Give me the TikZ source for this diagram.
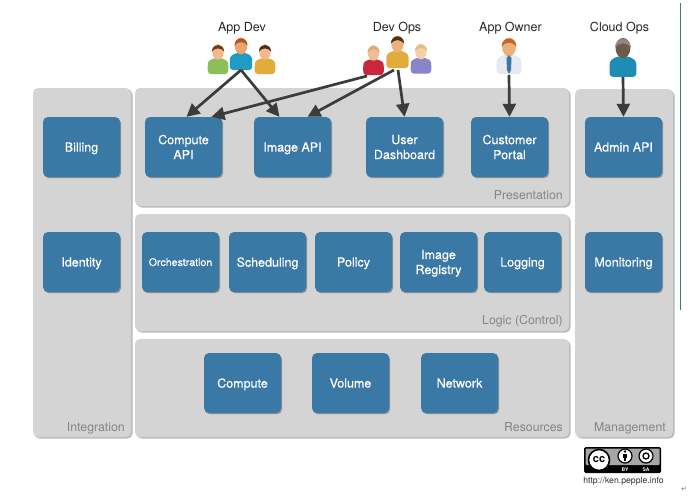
\documentclass[tikz,border=0pt]{standalone}
\usepackage{fontspec}
\setmainfont{TeX Gyre Heros}
\newfontfamily\symfont{DejaVu Sans}
\newfontfamily\boxfont[FakeBold=0.35]{TeX Gyre Heros}
\usetikzlibrary{shadows,calc,arrows.meta}
\definecolor{panelgrey}{HTML}{D4D4D4}
\definecolor{boxblue}{HTML}{3A78A6}
\definecolor{labelgrey}{HTML}{858585}
\definecolor{arrowdark}{HTML}{3C3C3C}
\tikzset{
  panel/.style={fill=panelgrey,rounded corners=5pt,drop shadow={shadow xshift=1.5pt,shadow yshift=-1.5pt,opacity=.45,fill=black!60}},
  bluebox/.style={fill=boxblue,rounded corners=5pt,minimum width=77pt,minimum height=60pt,inner sep=0pt,align=center,text=white,text depth=0pt,font=\boxfont\fontsize{12.5}{15}\selectfont,drop shadow={shadow xshift=1pt,shadow yshift=-1.2pt,opacity=.5,fill=black!70}},
  twoline/.style={text depth=-2pt},
  panellabel/.style={text=labelgrey,font=\fontsize{12.3}{15}\selectfont,anchor=base east,inner sep=0pt},
  role/.style={text=black!85,font=\fontsize{12.5}{15}\selectfont,inner sep=0pt},
  flow/.style={draw=arrowdark,line width=2.7pt,-{Triangle[length=13pt,width=13pt]}},
}
% person: [scale] x, y(head centre), skin, hair, body (hex)
\newcommand{\figperson}[6][1]{%
  \begin{scope}[shift={(#2,#3)},scale=#1]
    \definecolor{pskin}{HTML}{#4}\definecolor{phair}{HTML}{#5}\definecolor{pbody}{HTML}{#6}
    \fill[pbody,rounded corners=3pt] (-11,24) -- (-11.3,15) .. controls (-10.5,9) and (-5,7) .. (0,7) .. controls (5,7) and (10.5,9) .. (11.3,15) -- (11,24) -- cycle;
    \fill[pskin] (0,0) ellipse (6.2 and 8.4);
    \fill[phair] (-6.6,-0.5) .. controls (-6.5,-10) and (6.5,-10) .. (6.6,-0.5) .. controls (3,-5) and (-3,-5) .. (-6.6,-0.5) -- cycle;
  \end{scope}}
\begin{document}
\begin{tikzpicture}[x=1pt,y=-1pt]
\useasboundingbox (0,0) rectangle (700,498);
\fill[white] (0,0) rectangle (700,498);
\draw[teal!60!gray,line width=.8pt] (680,3) -- (680,310);
% panels
\fill[panel] (33,88) rectangle (131,437);
\fill[panel] (135,88) rectangle (569,206);
\fill[panel] (135,214) rectangle (569,331);
\fill[panel] (135,339) rectangle (569,437);
\fill[panel] (575,89) rectangle (673,437);
\node[panellabel] (lint) at (125,431) {Integration};
\node[panellabel] (lpre) at (563,199.5) {Presentation};
\node[panellabel] (llog) at (563,324.5) {Logic (Control)};
\node[panellabel] (lres) at (563,431) {Resources};
\node[panellabel] (lman) at (666,431) {Management};
% boxes
\node[bluebox] (billing) at (81.5,147) {Billing};
\node[bluebox] (identity) at (81.5,262) {Identity};
\node[bluebox,twoline] (computeapi) at (183.5,147) {Compute\\API};
\node[bluebox] (imageapi) at (292.5,147) {Image API};
\node[bluebox,twoline] (dash) at (404.5,147) {User\\Dashboard};
\node[bluebox,twoline] (portal) at (509.5,147) {Customer\\Portal};
\node[bluebox] (admin) at (623.5,147) {Admin API};
\node[bluebox,font=\boxfont\fontsize{10.6}{12}\selectfont] (orch) at (180.5,262) {Orchestration};
\node[bluebox] (sched) at (267.5,262) {Scheduling};
\node[bluebox] (policy) at (353.5,262) {Policy};
\node[bluebox,twoline] (registry) at (438.5,262) {Image\\Registry};
\node[bluebox] (logging) at (522.5,262) {Logging};
\node[bluebox] (monitoring) at (623.5,262) {Monitoring};
\node[bluebox] (compute) at (242.5,383) {Compute};
\node[bluebox] (volume) at (350.5,383) {Volume};
\node[bluebox] (network) at (459.5,383) {Network};
% roles
\node[role] (rappdev) at (242,28) {App Dev};
\node[role] (rdevops) at (397,28) {Dev Ops};
\node[role] (rowner) at (510.5,28) {App Owner};
\node[role] (rcloud) at (619.5,28) {Cloud Ops};
% people
\figperson[.92]{218}{52}{F2B98C}{6B3A1E}{8CBF5A}
\figperson[.92]{265}{52}{F2B98C}{4A3018}{E2AC3C}
\figperson{241}{46}{EBA470}{B5561E}{1F9BC4}
\figperson[.92]{373.5}{53}{EFBE96}{E0A878}{C8283C}
\figperson[.92]{421}{51.5}{F3D0A8}{E6BC80}{8A84C8}
\figperson{397.5}{44}{EBB07C}{4E3418}{E2AC3C}
\figperson[1.12]{509}{47}{EFAF7C}{C0692A}{E6EAF0}
\fill[boxblue] (509,55) -- (511.5,58) -- (511,70) -- (509,74) -- (507,70) -- (506.5,58) -- cycle;
\figperson[1.2]{623}{48}{6F5A48}{8A8A88}{1F8CB4}
% connector ends
\coordinate (appdevp) at (241,70);
\coordinate (devopsr) at (367,76);
\coordinate (devopsm) at (394,70);
\coordinate (devopsd) at (398,70);
\coordinate (ownerp) at (509,75);
\coordinate (cloudp) at (623,77);
\draw[flow] (appdevp) -- ([xshift=3pt]computeapi.north);
\draw[flow] (appdevp) -- ([xshift=-13pt]imageapi.north);
\draw[flow] (devopsr) -- ([xshift=28pt]computeapi.north);
\draw[flow] (devopsm) -- ([xshift=15pt]imageapi.north);
\draw[flow] (devopsd) -- (dash.north);
\draw[flow] (ownerp) -- (portal.north);
\draw[flow] (cloudp) -- (admin.north);
% licence badge
\node[fill=black,rounded corners=1.5pt,minimum width=77pt,minimum height=26pt,inner sep=0pt] (badge) at (622.5,460) {};
\fill[black!35,rounded corners=1pt] (585.5,448.5) rectangle (659.5,465);
\node[circle,fill=white,draw=black,line width=1.6pt,minimum size=21pt,inner sep=0pt,font=\bfseries\fontsize{11}{11}\selectfont] (cc) at (599,460) {cc};
\node[circle,fill=white,draw=black,line width=1.2pt,minimum size=14pt,inner sep=0pt] (by) at (625,456) {};
\fill[black] (625,451.5) circle (1.3);
\fill[black] (623,453.8) rectangle (627,458);
\fill[black] (624,458) rectangle (626,461);
\node[circle,fill=white,draw=black,line width=1.2pt,minimum size=14pt,inner sep=0pt] (sa) at (646,456) {};
\draw[black,line width=1.3pt] (646,456) circle (3);
\node[text=white,font=\bfseries\fontsize{5}{5}\selectfont,inner sep=0pt] (bytext) at (625,469.5) {BY};
\node[text=white,font=\bfseries\fontsize{5}{5}\selectfont,inner sep=0pt] (satext) at (646,469.5) {SA};
\node[text=black!80,font=\fontsize{8.7}{10}\selectfont,inner sep=0pt] (url) at (623.5,481.5) {http://ken.pepple.info};
\node[text=black!55,font=\symfont\fontsize{7}{8}\selectfont,inner sep=0pt] (ret) at (684,489) {↵};
\end{tikzpicture}
\end{document}
